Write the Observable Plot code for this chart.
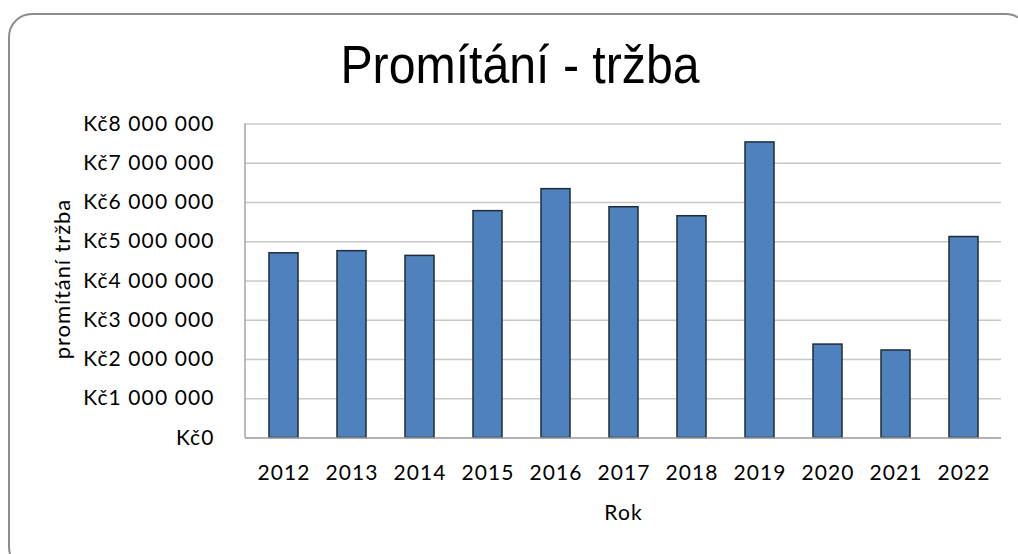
<!DOCTYPE html>
<html>
<head>
<meta charset="utf-8">
<script src="https://cdn.jsdelivr.net/npm/d3@7"></script>
<script src="https://cdn.jsdelivr.net/npm/@observablehq/plot@0.6"></script>
<style>
  html, body { margin: 0; padding: 0; background: #fff; }
  #wrap { position: relative; width: 1018px; height: 554px; overflow: hidden; background: #fff; }
  #frame { position: absolute; left: 8px; top: 13px; width: 1022px; height: 558px; border: 2.5px solid #8c8c8c; border-radius: 24px; box-sizing: border-box; }
  #title { position: absolute; left: 0; width: 1040px; top: 37.8px; text-align: center; font-family: "Liberation Sans", Arial, sans-serif; font-size: 53px; line-height: 53px; color: #000; transform: scaleX(0.91); transform-origin: 520px 0; white-space: nowrap; }
  #ylabel { position: absolute; left: 62px; top: 279px; transform: translate(-50%, -50%) rotate(-90deg); font-family: Lato, sans-serif; font-size: 22px; letter-spacing: 0.9px; color: #000; white-space: nowrap; line-height: 1; }
  #chart { position: absolute; left: 0; top: 0; }
  #chart svg text { letter-spacing: 1.1px; }
</style>
</head>
<body>
<div id="wrap">
  <div id="frame"></div>
  <div id="title">Promítání - tržba</div>
  <div id="chart"></div>
  <div id="ylabel"></div>
</div>
<script>
const years = ["2012","2013","2014","2015","2016","2017","2018","2019","2020","2021","2022"];
const revenue = [4706000, 4760000, 4640000, 5780000, 6340000, 5880000, 5650000, 7530000, 2380000, 2230000, 5120000];
const yTicks = [0, 1000000, 2000000, 3000000, 4000000, 5000000, 6000000, 7000000, 8000000];
const xLabel = "Rok";
const yLabel = "promítání tržba";

document.getElementById("ylabel").textContent = yLabel;

const data = years.map((year, i) => ({year, value: revenue[i]}));
const fmt = d => "Kč" + d3.format(",")(d).replace(/,/g, "\u00a0");

const leftAxisLine = (index, scales, values, dims) => {
  const l = d3.create("svg:line")
    .attr("x1", dims.marginLeft).attr("x2", dims.marginLeft)
    .attr("y1", dims.marginTop).attr("y2", dims.height - dims.marginBottom)
    .attr("stroke", "#a6a6a6").attr("stroke-width", 1.5);
  return l.node();
};

const chart = Plot.plot({
  width: 1018,
  height: 554,
  marginTop: 123.5,
  marginBottom: 116.5,
  marginLeft: 245,
  marginRight: 17,
  style: {fontFamily: "Lato, sans-serif", fontSize: "21px", color: "#000", background: "transparent"},
  x: {domain: years, paddingInner: 0.58, paddingOuter: 0.29, tickSize: 0, tickPadding: 27, label: xLabel, labelAnchor: "center", labelOffset: 82},
  y: {domain: [0, 8000000], ticks: yTicks, tickFormat: fmt, tickSize: 0, tickPadding: 31, label: null},
  marks: [
    Plot.ruleY(yTicks, {stroke: "#c8c8c8", strokeWidth: 1.5}),
    Plot.barY(data, {x: "year", y: "value", fill: "#4f81bd", stroke: "#1f2b3a", strokeWidth: 1.5}),
    Plot.ruleY([0], {stroke: "#a6a6a6", strokeWidth: 1.5}),
    leftAxisLine
  ]
});
document.getElementById("chart").appendChild(chart);
</script>
</body>
</html>
